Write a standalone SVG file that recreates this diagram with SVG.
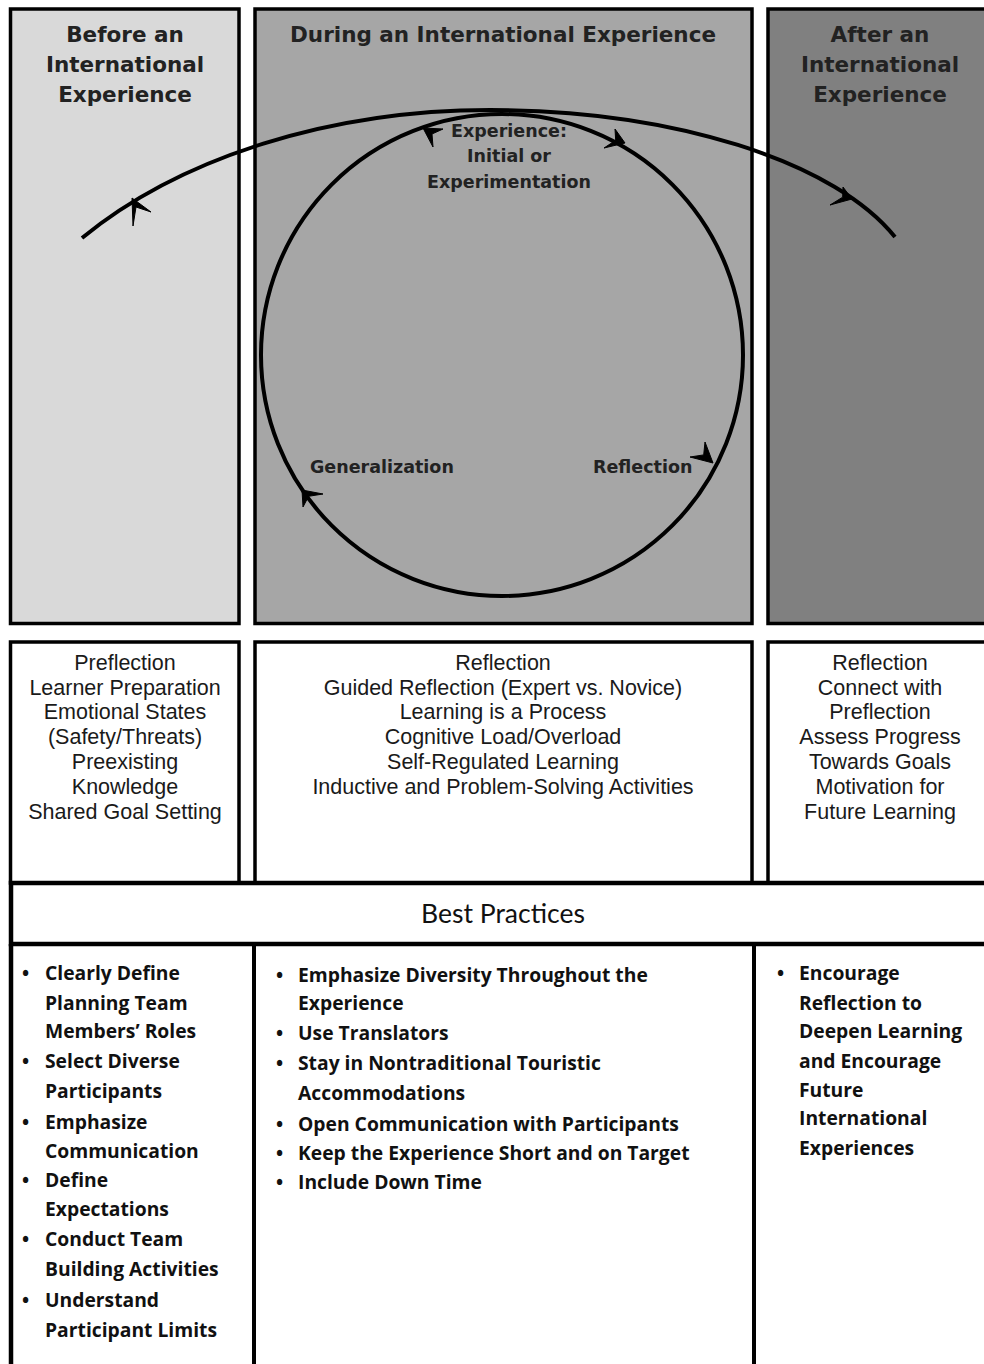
<svg xmlns="http://www.w3.org/2000/svg" width="984" height="1364" viewBox="0 0 984 1364">
<style>
.panel{stroke:#000;stroke-width:3.5}
.box{fill:#fff;stroke:#000;stroke-width:3.5}
.hdr{font-family:"DejaVu Sans",Verdana,sans-serif;font-weight:bold;font-size:21.5px;fill:#222;text-anchor:middle}
.lbl{font-family:"DejaVu Sans",Verdana,sans-serif;font-weight:bold;font-size:17.5px;fill:#222}
.txt{font-family:"Liberation Sans",Arial,sans-serif;font-size:21.5px;fill:#1a1a1a;text-anchor:middle}
.bph{font-family:Lato,"Open Sans",sans-serif;font-size:26.5px;fill:#111;text-anchor:middle}
.bp{font-family:"Open Sans",Lato,sans-serif;font-weight:bold;font-size:19.3px;fill:#111}
.dot{font-family:"Open Sans",Lato,sans-serif;font-weight:bold;font-size:19px;fill:#111}
.ln{fill:none;stroke:#000;stroke-width:4}
.arr{fill:#000;stroke:#000;stroke-width:1;stroke-linejoin:miter}
</style>
<rect x="0" y="0" width="984" height="1364" fill="#fff"/>

<g id="panel-before">
<rect class="panel" x="10.5" y="9" width="228.5" height="614.5" fill="#d9d9d9"/>
<text class="hdr" x="125" y="42">Before an</text>
<text class="hdr" x="125" y="72">International</text>
<text class="hdr" x="125" y="102">Experience</text>
</g>
<g id="panel-during">
<rect class="panel" x="255" y="9" width="497" height="614.5" fill="#a6a6a6"/>
<text class="hdr" x="503" y="42">During an International Experience</text>
</g>
<g id="panel-after">
<rect class="panel" x="768" y="9" width="240" height="614.5" fill="#808080"/>
<text class="hdr" x="880" y="42">After an</text>
<text class="hdr" x="880" y="72">International</text>
<text class="hdr" x="880" y="102">Experience</text>
</g>

<g id="connectors">
<path class="ln" d="M 82 238 A 520 337 0 0 1 490 110 A 430 191 0 0 1 895 237"/>
<circle class="ln" cx="502" cy="355" r="241"/>
<polygon class="arr" points="132,198 151,212 136,207 133,226"/>
<polygon class="arr" points="852,199 843,187 842.7,197.2 830,205"/>
<polygon class="arr" points="423,128 443,129 432,134 433,147"/>
<polygon class="arr" points="625,143 615,129 615.7,140.3 604,148"/>
<polygon class="arr" points="713,463 705,442 703.7,454.9 690,457"/>
<polygon class="arr" points="302,490 323,494 308.6,496.3 303,507"/>
</g>

<g id="node-experience">
<text class="lbl" x="509" y="137" text-anchor="middle">Experience:</text>
<text class="lbl" x="509" y="162" text-anchor="middle">Initial or</text>
<text class="lbl" x="509" y="188" text-anchor="middle">Experimentation</text>
</g>
<g id="node-generalization">
<text class="lbl" x="310" y="473">Generalization</text>
</g>
<g id="node-reflection">
<text class="lbl" x="593" y="473">Reflection</text>
</g>

<g id="box-before">
<rect class="box" x="10.5" y="642" width="228.5" height="241"/>
<text class="txt" x="125" y="670">Preflection</text>
<text class="txt" x="125" y="695">Learner Preparation</text>
<text class="txt" x="125" y="719">Emotional States</text>
<text class="txt" x="125" y="744">(Safety/Threats)</text>
<text class="txt" x="125" y="769">Preexisting</text>
<text class="txt" x="125" y="794">Knowledge</text>
<text class="txt" x="125" y="819">Shared Goal Setting</text>
</g>
<g id="box-during">
<rect class="box" x="255" y="642" width="497" height="241"/>
<text class="txt" x="503" y="670">Reflection</text>
<text class="txt" x="503" y="695">Guided Reflection (Expert vs. Novice)</text>
<text class="txt" x="503" y="719">Learning is a Process</text>
<text class="txt" x="503" y="744">Cognitive Load/Overload</text>
<text class="txt" x="503" y="769">Self-Regulated Learning</text>
<text class="txt" x="503" y="794">Inductive and Problem-Solving Activities</text>
</g>
<g id="box-after">
<rect class="box" x="768" y="642" width="240" height="241"/>
<text class="txt" x="880" y="670">Reflection</text>
<text class="txt" x="880" y="695">Connect with</text>
<text class="txt" x="880" y="719">Preflection</text>
<text class="txt" x="880" y="744">Assess Progress</text>
<text class="txt" x="880" y="769">Towards Goals</text>
<text class="txt" x="880" y="794">Motivation for</text>
<text class="txt" x="880" y="819">Future Learning</text>
</g>

<g id="best-practices-header">
<rect x="11" y="883" width="1000" height="61" fill="#fff" stroke="#000" stroke-width="4.5"/>
<text class="bph" x="503" y="923">Best Practices</text>
</g>

<g id="best-practices-columns">
<line x1="11" y1="944" x2="11" y2="1370" stroke="#000" stroke-width="4.5"/>
<line x1="254" y1="944" x2="254" y2="1370" stroke="#000" stroke-width="4"/>
<line x1="754" y1="944" x2="754" y2="1370" stroke="#000" stroke-width="4"/>
</g>

<g id="bp-before">
<text class="dot" x="22" y="980">•</text><text class="bp" x="45" y="980">Clearly Define</text>
<text class="bp" x="45" y="1010">Planning Team</text>
<text class="bp" x="45" y="1038">Members’ Roles</text>
<text class="dot" x="22" y="1068">•</text><text class="bp" x="45" y="1068">Select Diverse</text>
<text class="bp" x="45" y="1098">Participants</text>
<text class="dot" x="22" y="1129">•</text><text class="bp" x="45" y="1129">Emphasize</text>
<text class="bp" x="45" y="1158">Communication</text>
<text class="dot" x="22" y="1187">•</text><text class="bp" x="45" y="1187">Define</text>
<text class="bp" x="45" y="1216">Expectations</text>
<text class="dot" x="22" y="1246">•</text><text class="bp" x="45" y="1246">Conduct Team</text>
<text class="bp" x="45" y="1276">Building Activities</text>
<text class="dot" x="22" y="1307">•</text><text class="bp" x="45" y="1307">Understand</text>
<text class="bp" x="45" y="1337">Participant Limits</text>
</g>
<g id="bp-during">
<text class="dot" x="276" y="982">•</text><text class="bp" x="298" y="982">Emphasize Diversity Throughout the</text>
<text class="bp" x="298" y="1010">Experience</text>
<text class="dot" x="276" y="1040">•</text><text class="bp" x="298" y="1040">Use Translators</text>
<text class="dot" x="276" y="1070">•</text><text class="bp" x="298" y="1070">Stay in Nontraditional Touristic</text>
<text class="bp" x="298" y="1100">Accommodations</text>
<text class="dot" x="276" y="1131">•</text><text class="bp" x="298" y="1131">Open Communication with Participants</text>
<text class="dot" x="276" y="1160">•</text><text class="bp" x="298" y="1160">Keep the Experience Short and on Target</text>
<text class="dot" x="276" y="1189">•</text><text class="bp" x="298" y="1189">Include Down Time</text>
</g>
<g id="bp-after">
<text class="dot" x="777" y="980">•</text><text class="bp" x="799" y="980">Encourage</text>
<text class="bp" x="799" y="1010">Reflection to</text>
<text class="bp" x="799" y="1038">Deepen Learning</text>
<text class="bp" x="799" y="1068">and Encourage</text>
<text class="bp" x="799" y="1097">Future</text>
<text class="bp" x="799" y="1125">International</text>
<text class="bp" x="799" y="1155">Experiences</text>
</g>
</svg>
